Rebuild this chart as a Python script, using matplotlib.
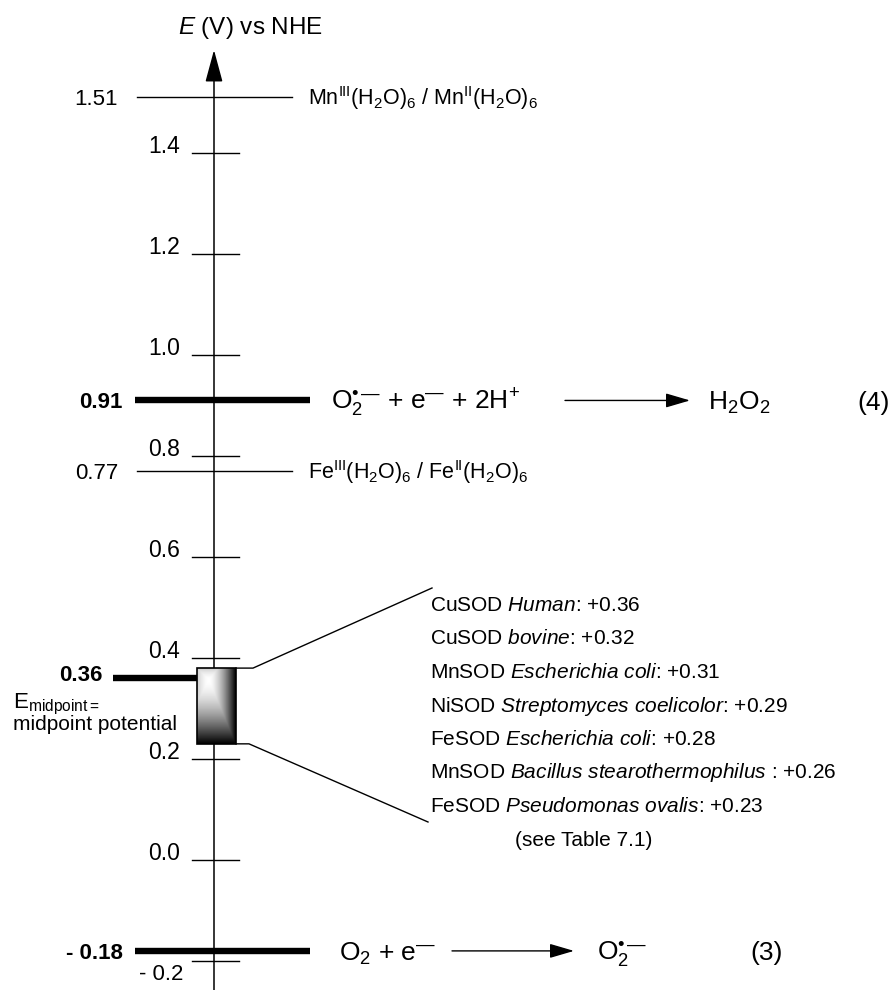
import numpy as np
import matplotlib.pyplot as plt
from matplotlib.patches import Rectangle

plt.rcParams['font.family'] = ['Liberation Sans', 'DejaVu Sans']
plt.rcParams['mathtext.fontset'] = 'custom'
plt.rcParams['mathtext.rm'] = 'Liberation Sans'
plt.rcParams['mathtext.it'] = 'Liberation Sans:italic'
plt.rcParams['mathtext.bf'] = 'Liberation Sans:bold'

# potential scale, V vs NHE
tick_values = [-0.2, 0.0, 0.2, 0.4, 0.6, 0.8, 1.0, 1.2, 1.4]
tick_labels = ['- 0.2', '0.0', '0.2', '0.4', '0.6', '0.8', '1.0', '1.2', '1.4']

# metal aqua couples (thin lines)
couple_E = [1.51, 0.77]
couple_labels = ['1.51', '0.77']
couple_names = [r'Mn$^{\mathrm{III}}$(H$_2$O)$_6$ / Mn$^{\mathrm{II}}$(H$_2$O)$_6$',
                r'Fe$^{\mathrm{III}}$(H$_2$O)$_6$ / Fe$^{\mathrm{II}}$(H$_2$O)$_6$']

# superoxide half reactions (thick lines)
reaction_E = [0.91, -0.18]
reaction_labels = ['0.91', '- 0.18']
reaction_left = [r'O$_2^{•\,—}$ + e$^{—}$ + 2H$^{+}$', r'O$_2$ + e$^{—}$']
reaction_right = [r'H$_2$O$_2$', r'O$_2^{•\,—}$']
reaction_numbers = ['(4)', '(3)']

# SOD midpoint potentials
E_mid = 0.36
sod_metal = ['CuSOD', 'CuSOD', 'MnSOD', 'NiSOD', 'FeSOD', 'MnSOD', 'FeSOD']
sod_source = ['Human', 'bovine', 'Escherichia coli', 'Streptomyces coelicolor',
              'Escherichia coli', 'Bacillus stearothermophilus ', 'Pseudomonas ovalis']
sod_E = [0.36, 0.32, 0.31, 0.29, 0.28, 0.26, 0.23]

W, H = 892, 990
E_TOP, E_BOT = 860 / 505, -130 / 505


def py(y):
    # pixel row from the top -> potential on the drawing scale
    return E_TOP - y * (E_TOP - E_BOT) / H


def label(x, E, s, size, dy=0.0, va='baseline', **kw):
    # capitals centred on E, dy in points
    off = -0.358 * size + dy if va == 'baseline' else dy
    ax.annotate(s, (x, E), xytext=(0, off), textcoords='offset points',
                fontsize=size, va=va, **kw)


fig = plt.figure(figsize=(W / 100, H / 100), dpi=100)
ax = fig.add_axes([0, 0, 1, 1])

axis_x = 214
ax.annotate('', xy=(axis_x, py(50)), xytext=(axis_x, E_BOT),
            arrowprops=dict(arrowstyle='-|>,head_length=1.0,head_width=0.27', mutation_scale=20,
                            lw=1.1, color='k', shrinkA=0, shrinkB=0))
label(178, py(25), r'$E$ (V) vs NHE', 17.5)

for v, t in zip(tick_values, tick_labels):
    ax.plot([192, 239], [v, v], color='k', lw=1.0)
    if v < 0:
        label(183, v, t, 16, dy=-2, va='top', ha='right')
    else:
        label(180, v, t, 16.5, dy=5.8, ha='right')

for E, t, name in zip(couple_E, couple_labels, couple_names):
    ax.plot([137, 292], [E, E], color='k', lw=1.0)
    label(118, E, t, 16, ha='right')
    label(308, E, name, 15.5)

arrow_x = [(565, 690), (452, 574)]
text_x = [(331, 708, 857), (339, 597, 750)]
for i, E in enumerate(reaction_E):
    ax.plot([135, 310], [E, E], color='k', lw=4.6, solid_capstyle='butt')
    label(123, E, reaction_labels[i], 16, ha='right', fontweight='bold')
    label(text_x[i][0], E, reaction_left[i], 19)
    ax.annotate('', xy=(arrow_x[i][1], E), xytext=(arrow_x[i][0], E),
                arrowprops=dict(arrowstyle='-|>,head_length=0.75,head_width=0.22', mutation_scale=20,
                                lw=1.0, color='k', shrinkA=0, shrinkB=0))
    label(text_x[i][1], E, reaction_right[i], 19)
    label(text_x[i][2], E, reaction_numbers[i], 19)

# midpoint potential and SOD box
ax.plot([113, 197], [E_mid, E_mid], color='k', lw=4.6, solid_capstyle='butt')
label(102, E_mid, '0.36', 16, dy=3.5, ha='right', fontweight='bold')
label(13, E_mid, r'E$_{\mathrm{midpoint=}}$', 16, dy=-16)
label(13, E_mid, 'midpoint potential', 15, dy=-32)

bx0, bx1 = 197, 236
b_top, b_bot = max(sod_E) + 0.02, min(sod_E)
u = np.linspace(0, 1, 60)[None, :]
v = np.linspace(0, 1, 120)[:, None]
cu, cv = 0.3, 0.15
du = np.where(u > cu, (u - cu) / (1 - cu), (cu - u) / cu * 0.35)
dv = np.where(v > cv, (v - cv) / (1 - cv), (cv - v) / cv * 0.35)
shade = 1 - np.maximum(du, dv) ** 1.6
ax.imshow(shade, cmap='gray', vmin=0, vmax=1, extent=(bx0, bx1, b_bot, b_top),
          origin='upper', aspect='auto', interpolation='bilinear', zorder=3)
ax.add_patch(Rectangle((bx0, b_bot), bx1 - bx0, b_top - b_bot, fill=False,
                       ec='k', lw=1.2, zorder=4))

row0, step = 611, 33.5
rows = [py(row0 + i * step) for i in range(len(sod_E) + 1)]
ax.plot([bx1, 253, 432], [b_top, b_top, py(row0 - 23)], color='k', lw=1.0)
ax.plot([bx1, 249, 428], [b_bot, b_bot, py(row0 + 6 * step + 10)], color='k', lw=1.0)
for i, (m, src, e) in enumerate(zip(sod_metal, sod_source, sod_E)):
    s = m + r' $\mathit{' + src.replace(' ', r'\ ') + '}$: +%.2f' % e
    ax.text(430, rows[i], s, fontsize=15, va='baseline')
ax.text(515, rows[-1], '(see Table 7.1)', fontsize=15, va='baseline')

ax.set_xlim(0, W)
ax.set_ylim(E_BOT, E_TOP)
ax.axis('off')
fig.savefig('out.png', dpi=100)
